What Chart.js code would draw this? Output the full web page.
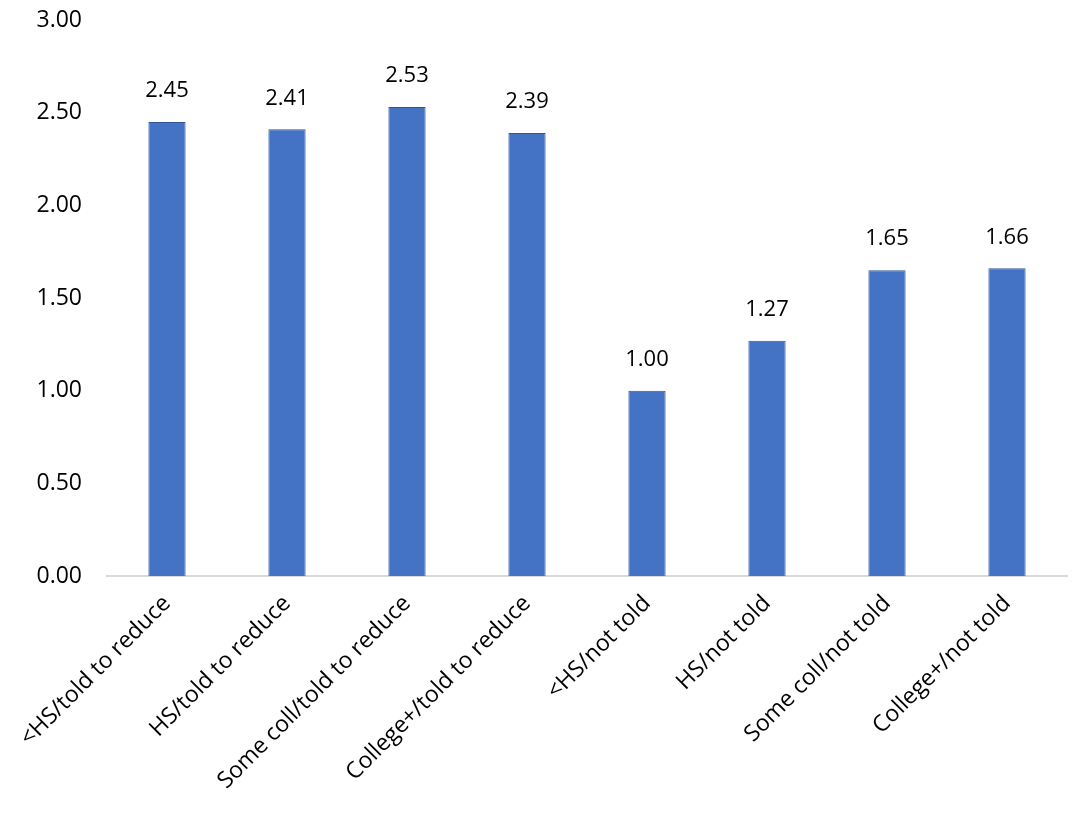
<!DOCTYPE html>
<html>
<head>
<meta charset="utf-8">
<script src="https://cdn.jsdelivr.net/npm/chart.js@4/dist/chart.umd.min.js"></script>
<style>
  html, body { margin: 0; padding: 0; background: #fff; }
  #wrap { width: 1084px; height: 824px; }
</style>
</head>
<body>
<div id="wrap"><canvas id="chart" width="1084" height="824"></canvas></div>
<script>
// data
const categories = [
  "<HS/told to reduce", "HS/told to reduce", "Some coll/told to reduce", "College+/told to reduce",
  "<HS/not told", "HS/not told", "Some coll/not told", "College+/not told"
];
const values = [2.45, 2.41, 2.53, 2.39, 1.00, 1.27, 1.65, 1.66];
const yTicks = [0, 0.5, 1, 1.5, 2, 2.5, 3];

const FONT = "'Open Sans', 'Noto Sans', sans-serif";

// value labels above each bar
const valueLabels = {
  id: "valueLabels",
  afterDatasetsDraw(chart) {
    const ctx = chart.ctx;
    const meta = chart.getDatasetMeta(0);
    ctx.save();
    ctx.font = "22px " + FONT;
    ctx.fillStyle = "#000";
    ctx.textAlign = "center";
    ctx.textBaseline = "middle";
    meta.data.forEach((bar, i) => {
      ctx.fillText(values[i].toFixed(2), bar.x, bar.y - 31);
    });
    ctx.restore();
  }
};

new Chart(document.getElementById("chart"), {
  type: "bar",
  data: {
    labels: categories,
    datasets: [{
      data: values,
      backgroundColor: "#4472C4",
      borderColor: "#2E5597",
      borderWidth: 1,
      barPercentage: 0.62,
      categoryPercentage: 0.5
    }]
  },
  options: {
    responsive: false,
    animation: false,
    layout: { padding: { top: 20, right: 17, left: 0, bottom: 0 } },
    plugins: {
      legend: { display: false },
      tooltip: { enabled: false }
    },
    scales: {
      x: {
        grid: { display: false, drawTicks: false },
        border: { display: true, color: "#d9d9d9", width: 2 },
        ticks: {
          color: "#000",
          font: { family: FONT, size: 23 },
          minRotation: 45,
          maxRotation: 45,
          padding: 14
        },
        afterFit(scale) { scale.height = 248; }
      },
      y: {
        min: 0,
        max: 3,
        grid: { display: false, drawTicks: false },
        border: { display: false },
        afterBuildTicks(scale) { scale.ticks = yTicks.map(v => ({ value: v })); },
        ticks: {
          color: "#000",
          font: { family: FONT, size: 23 },
          padding: 25,
          callback: v => Number(v).toFixed(2)
        },
        afterFit(scale) {
          scale.width = 107;
          scale.paddingTop = 0;
        }
      }
    }
  },
  plugins: [valueLabels]
});
</script>
</body>
</html>
